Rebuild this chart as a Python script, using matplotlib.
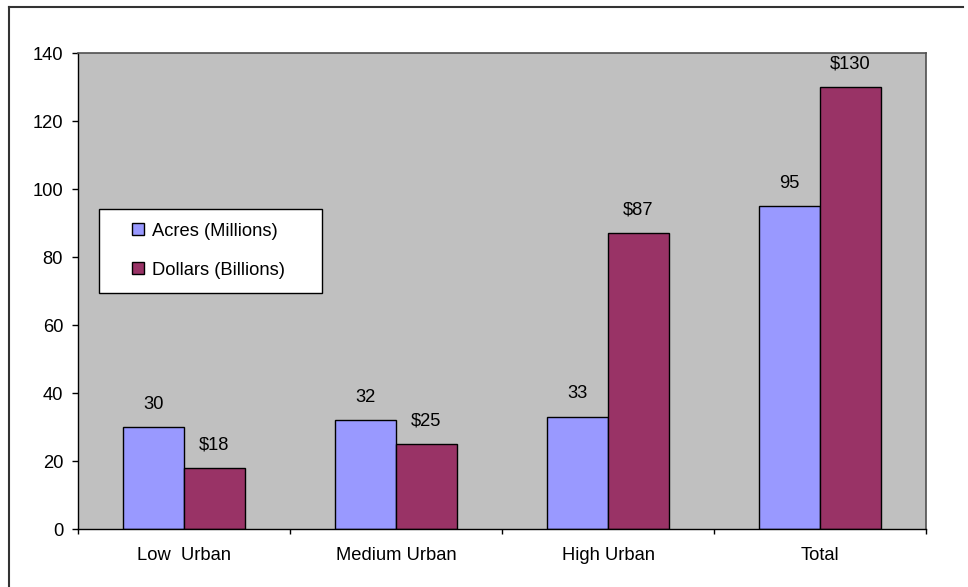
import matplotlib
matplotlib.use("Agg")
import matplotlib.pyplot as plt
import numpy as np
from matplotlib.lines import Line2D

plt.rcParams['font.family'] = ['Liberation Sans', 'DejaVu Sans']

categories = ["Low  Urban", "Medium Urban", "High Urban", "Total"]
acres = [30, 32, 33, 95]
dollars = [18, 25, 87, 130]
series_names = ["Acres (Millions)", "Dollars (Billions)"]
yticks = [0, 20, 40, 60, 80, 100, 120, 140]

blue = "#9999FF"
plum = "#993366"
plot_bg = "#C0C0C0"
fs = 13.2

fig = plt.figure(figsize=(9.68, 5.87), dpi=100)
ax = fig.add_axes([78 / 968, 1 - 529 / 587, 848 / 968, 476 / 587])
ax.set_facecolor(plot_bg)

x = np.arange(len(categories))
w = 1 / 3.5
ax.bar(x - w / 2, acres, w, color=blue, edgecolor="black", linewidth=1.0, zorder=2)
ax.bar(x + w / 2, dollars, w, color=plum, edgecolor="black", linewidth=1.0, zorder=2)

for xi, v in zip(x - w / 2, acres):
    ax.annotate(f"{v}", (xi, v), xytext=(0, 16.5), textcoords="offset points",
                ha="center", va="center", fontsize=fs)
for xi, v in zip(x + w / 2, dollars):
    ax.annotate(f"${v}", (xi, v), xytext=(0, 16.5), textcoords="offset points",
                ha="center", va="center", fontsize=fs)

ax.set_xlim(-0.5, len(categories) - 0.5)
ax.set_ylim(0, 140)
ax.set_yticks(yticks)
ax.set_yticklabels([str(t) for t in yticks], fontsize=fs)
ax.tick_params(axis="y", direction="out", length=4.3, width=1, pad=6.5)

ax.set_xticks(x)
ax.set_xticklabels(categories, fontsize=fs)
ax.tick_params(axis="x", which="major", length=0, pad=13)
ax.set_xticks(np.arange(len(categories) + 1) - 0.5, minor=True)
ax.tick_params(axis="x", which="minor", direction="out", length=3.5, width=1)

for side in ("left", "bottom"):
    ax.spines[side].set_color("black")
    ax.spines[side].set_linewidth(1.0)
for side in ("top", "right"):
    ax.spines[side].set_color("#505050")
    ax.spines[side].set_linewidth(1.2)

handles = [
    Line2D([], [], linestyle="none", marker="s", markersize=8.5,
           markerfacecolor=blue, markeredgecolor="black", markeredgewidth=1),
    Line2D([], [], linestyle="none", marker="s", markersize=8.5,
           markerfacecolor=plum, markeredgecolor="black", markeredgewidth=1),
]
leg = ax.legend(handles, series_names, loc="upper left",
                bbox_to_anchor=(0.0248, 0.487, 0.263, 0.185), mode="expand",
                borderaxespad=0, fontsize=fs, frameon=True, fancybox=False,
                shadow=False, borderpad=0.75, labelspacing=1.2,
                handlelength=2.7, handletextpad=-0.55)
leg.get_frame().set_edgecolor("black")
leg.get_frame().set_linewidth(1.0)
leg.get_frame().set_facecolor("white")
leg.get_frame().set_alpha(1)

# chart-area border (left and top edges)
fig.add_artist(Line2D([9 / 968, 9 / 968], [0, 1 - 7 / 587], transform=fig.transFigure,
                      color="#333333", linewidth=1.5))
fig.add_artist(Line2D([9 / 968, 963 / 968], [1 - 7 / 587, 1 - 7 / 587], transform=fig.transFigure,
                      color="#333333", linewidth=1.5))

fig.savefig("out.png", dpi=100)
